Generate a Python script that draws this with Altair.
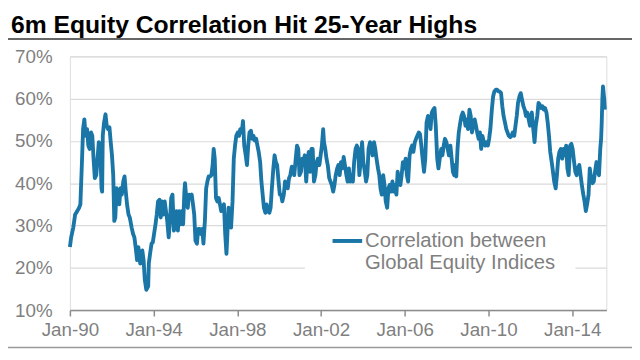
import altair as alt
import pandas as pd

title_text = "6m Equity Correlation Hit 25-Year Highs"
legend_text = "Correlation between\nGlobal Equity Indices"
x_tick_years = [1990, 1994, 1998, 2002, 2006, 2010, 2014]
y_ticks = [10, 20, 30, 40, 50, 60, 70]

# (decimal year, 6m correlation in %)
seg_1990 = [(1990.00, 24.9), (1990.06, 27.2), (1990.16, 29.5), (1990.25, 32.6), (1990.35, 33.4), (1990.44, 34.2),
            (1990.50, 35.0), (1990.57, 44.3), (1990.63, 52.8), (1990.69, 55.1), (1990.75, 51.2), (1990.82, 52.8),
            (1990.88, 48.9), (1990.94, 48.1), (1991.01, 52.0), (1991.07, 51.2), (1991.13, 45.8), (1991.19, 41.2),
            (1991.26, 41.9), (1991.32, 45.8), (1991.38, 49.7), (1991.45, 48.1), (1991.51, 38.8), (1991.54, 38.0),
            (1991.57, 51.2), (1991.63, 54.3), (1991.70, 56.3), (1991.76, 53.6), (1991.82, 52.8), (1991.89, 53.2),
            (1991.95, 49.7), (1992.01, 46.6), (1992.07, 41.9), (1992.12, 31.1), (1992.17, 31.9), (1992.23, 38.8),
            (1992.29, 38.0), (1992.36, 35.0), (1992.42, 38.8), (1992.48, 37.3), (1992.55, 40.4), (1992.61, 41.6),
            (1992.67, 38.0), (1992.73, 35.0), (1992.80, 32.6), (1992.86, 31.9), (1992.95, 29.5), (1993.02, 28.0),
            (1993.08, 27.2), (1993.14, 24.9), (1993.21, 21.8), (1993.27, 24.9), (1993.36, 21.0), (1993.46, 24.1),
            (1993.52, 21.8), (1993.58, 17.1), (1993.65, 14.8)]

seg_1994 = [(1993.74, 15.6), (1993.77, 21.0), (1993.83, 23.3), (1993.90, 25.7), (1993.96, 26.0), (1994.02, 28.0),
            (1994.09, 30.3), (1994.15, 32.6), (1994.21, 35.7), (1994.28, 36.1), (1994.34, 31.9), (1994.40, 35.7),
            (1994.46, 32.6), (1994.53, 35.7), (1994.59, 33.4), (1994.65, 31.1), (1994.72, 27.2), (1994.78, 31.1),
            (1994.84, 36.5), (1994.90, 37.3), (1994.97, 28.8), (1995.03, 31.1), (1995.09, 33.4), (1995.16, 28.8),
            (1995.22, 33.4), (1995.28, 30.3), (1995.34, 33.4), (1995.41, 30.3), (1995.47, 38.0), (1995.50, 40.0),
            (1995.56, 36.5), (1995.63, 34.2), (1995.69, 37.3), (1995.75, 36.9), (1995.82, 37.3), (1995.88, 35.0),
            (1995.94, 32.6), (1996.00, 26.4), (1996.07, 25.7), (1996.13, 29.2), (1996.19, 29.2), (1996.26, 28.0),
            (1996.32, 29.2), (1996.38, 25.7), (1996.45, 31.1), (1996.51, 38.8), (1996.57, 40.4), (1996.63, 41.6),
            (1996.70, 41.6), (1996.76, 41.9), (1996.82, 44.3), (1996.87, 48.1), (1996.92, 45.8), (1996.98, 36.5),
            (1997.04, 35.7), (1997.11, 36.5), (1997.17, 35.0), (1997.23, 33.4)]

seg_1998 = [(1997.29, 34.2), (1997.36, 35.0), (1997.42, 28.0), (1997.48, 23.3), (1997.51, 26.4), (1997.58, 34.2),
            (1997.64, 31.9), (1997.70, 29.5), (1997.77, 35.7), (1997.83, 45.8), (1997.89, 48.9), (1997.95, 51.2),
            (1998.02, 52.0), (1998.08, 51.2), (1998.14, 52.8), (1998.21, 52.0), (1998.27, 54.7), (1998.33, 48.9),
            (1998.40, 46.6), (1998.46, 44.3), (1998.52, 48.9), (1998.58, 52.0), (1998.65, 52.4), (1998.71, 50.5),
            (1998.77, 51.2), (1998.83, 50.1), (1998.90, 50.5), (1998.96, 48.9), (1999.02, 47.4), (1999.09, 45.0),
            (1999.15, 40.4), (1999.21, 37.3), (1999.27, 34.2), (1999.34, 33.0), (1999.40, 35.0), (1999.46, 33.4),
            (1999.53, 33.0), (1999.59, 34.2), (1999.65, 38.8), (1999.72, 43.5), (1999.78, 46.6), (1999.84, 45.0),
            (1999.90, 44.3), (1999.97, 40.4), (2000.03, 37.3), (2000.09, 37.3), (2000.15, 35.7), (2000.22, 37.3),
            (2000.28, 40.4), (2000.34, 39.6), (2000.41, 38.8), (2000.47, 41.2), (2000.53, 41.9), (2000.60, 43.9),
            (2000.66, 43.5), (2000.72, 41.9), (2000.79, 45.8), (2000.85, 48.9), (2000.91, 48.1), (2000.97, 41.9)]

seg_2002 = [(2001.04, 42.7), (2001.10, 45.8), (2001.16, 44.3), (2001.22, 46.6), (2001.29, 40.4), (2001.35, 45.0),
            (2001.41, 47.4), (2001.48, 42.7), (2001.54, 48.1), (2001.60, 48.1), (2001.66, 40.4), (2001.73, 41.9),
            (2001.79, 45.0), (2001.85, 45.8), (2001.92, 44.3), (2001.98, 46.6), (2002.04, 48.9), (2002.10, 52.8),
            (2002.14, 49.7), (2002.20, 48.1), (2002.26, 45.8), (2002.32, 44.3), (2002.39, 41.2), (2002.45, 40.4),
            (2002.51, 39.6), (2002.58, 38.0), (2002.64, 39.6), (2002.70, 41.9), (2002.77, 43.5), (2002.83, 44.3),
            (2002.89, 41.9), (2002.95, 45.0), (2003.02, 43.5), (2003.08, 46.2), (2003.14, 44.3), (2003.21, 41.9),
            (2003.27, 40.4), (2003.33, 43.5), (2003.39, 40.4), (2003.46, 41.9), (2003.52, 40.4), (2003.58, 45.0),
            (2003.65, 48.1), (2003.71, 48.9), (2003.77, 48.1), (2003.83, 41.9), (2003.90, 45.8), (2003.96, 49.7),
            (2004.02, 45.0), (2004.09, 42.7), (2004.15, 40.4), (2004.21, 41.9), (2004.27, 48.1), (2004.34, 49.7),
            (2004.40, 48.1), (2004.46, 46.6), (2004.53, 49.7)]

seg_2006 = [(2004.59, 48.1), (2004.65, 45.8), (2004.72, 43.5), (2004.78, 41.9), (2004.84, 38.8), (2004.90, 37.3),
            (2004.97, 41.9), (2005.03, 39.6), (2005.09, 35.7), (2005.16, 34.2), (2005.22, 38.8), (2005.28, 39.6),
            (2005.34, 38.0), (2005.41, 40.4), (2005.47, 38.0), (2005.53, 39.6), (2005.60, 37.3), (2005.66, 42.7),
            (2005.72, 40.4), (2005.79, 39.6), (2005.85, 41.9), (2005.91, 45.0), (2005.97, 43.5), (2006.04, 45.8),
            (2006.10, 41.9), (2006.16, 40.4), (2006.23, 46.6), (2006.29, 48.1), (2006.35, 48.9), (2006.41, 47.4),
            (2006.48, 49.7), (2006.54, 50.5), (2006.60, 51.2), (2006.67, 52.0), (2006.73, 51.6), (2006.79, 48.9),
            (2006.85, 45.8), (2006.92, 42.7), (2006.98, 45.8), (2007.04, 54.3), (2007.11, 55.9), (2007.17, 55.1),
            (2007.23, 52.8), (2007.29, 56.7), (2007.36, 57.4), (2007.42, 57.8), (2007.48, 53.6), (2007.55, 45.8),
            (2007.61, 43.5), (2007.67, 45.8), (2007.74, 48.1), (2007.80, 46.6), (2007.86, 48.9), (2007.92, 50.5),
            (2007.99, 49.7), (2008.05, 48.1), (2008.11, 46.6), (2008.18, 48.9), (2008.24, 45.8), (2008.30, 42.7),
            (2008.36, 41.9)]

seg_2010 = [(2008.40, 44.3), (2008.46, 41.6), (2008.52, 48.1), (2008.58, 52.0), (2008.65, 54.3), (2008.71, 55.9),
            (2008.77, 56.7), (2008.83, 55.9), (2008.90, 53.6), (2008.96, 55.1), (2009.02, 52.8), (2009.09, 57.4),
            (2009.15, 55.9), (2009.21, 52.0), (2009.27, 53.6), (2009.34, 55.1), (2009.40, 53.6), (2009.46, 52.0),
            (2009.53, 50.5), (2009.59, 52.0), (2009.65, 48.1), (2009.71, 51.2), (2009.78, 49.7), (2009.84, 48.9),
            (2009.90, 49.7), (2009.97, 48.9), (2010.03, 50.5), (2010.09, 52.8), (2010.16, 57.4), (2010.22, 60.5),
            (2010.28, 61.7), (2010.35, 62.1), (2010.41, 62.1), (2010.47, 61.7), (2010.53, 61.7), (2010.60, 61.3),
            (2010.66, 58.2), (2010.72, 55.9), (2010.79, 54.3), (2010.85, 52.8), (2010.91, 52.0), (2010.97, 51.2),
            (2011.04, 50.9), (2011.10, 51.2), (2011.16, 52.0), (2011.23, 51.2), (2011.29, 53.6), (2011.35, 55.9),
            (2011.41, 59.0), (2011.48, 60.5), (2011.54, 61.3), (2011.60, 59.8), (2011.67, 58.2), (2011.73, 57.4),
            (2011.79, 55.9), (2011.85, 56.7), (2011.92, 55.1), (2011.98, 53.6)]

seg_2014 = [(2012.01, 55.9), (2012.07, 56.7), (2012.14, 52.8), (2012.20, 49.7), (2012.26, 53.6), (2012.33, 55.9),
            (2012.39, 59.0), (2012.45, 58.6), (2012.51, 57.8), (2012.58, 58.2), (2012.64, 57.4), (2012.70, 57.8),
            (2012.77, 56.7), (2012.83, 54.3), (2012.89, 51.2), (2012.95, 47.4), (2013.02, 45.0), (2013.08, 42.7),
            (2013.14, 40.4), (2013.21, 38.8), (2013.27, 41.9), (2013.33, 45.8), (2013.39, 47.4), (2013.46, 48.1),
            (2013.52, 45.8), (2013.58, 48.1), (2013.65, 46.6), (2013.71, 48.9), (2013.77, 43.5), (2013.83, 41.9),
            (2013.90, 48.9), (2013.96, 49.3), (2014.02, 48.1), (2014.09, 45.0), (2014.15, 42.7), (2014.21, 41.9),
            (2014.27, 43.5), (2014.34, 44.3), (2014.40, 41.9), (2014.46, 39.6), (2014.53, 37.3), (2014.59, 35.7),
            (2014.65, 33.4), (2014.71, 35.0), (2014.78, 37.3), (2014.84, 43.5), (2014.90, 41.2), (2014.97, 40.0),
            (2015.03, 40.4), (2015.09, 42.7), (2015.16, 45.0), (2015.22, 42.7), (2015.28, 41.9), (2015.34, 48.1),
            (2015.38, 50.5), (2015.41, 54.3), (2015.44, 59.8), (2015.47, 62.9), (2015.53, 59.8), (2015.56, 57.4)]

points = seg_1990 + seg_1994 + seg_1998 + seg_2002 + seg_2006 + seg_2010 + seg_2014
df = pd.DataFrame(points, columns=["year", "corr"])

FONT = "Liberation Sans"
LINE_COLOR = "#1a76a7"
GRAY_TEXT = "#7f7f7f"

PAD_L, PAD_T = 62.7, 46.7
W, H = 543.3, 257.0
TOTAL_W, TOTAL_H = 632, 352

one = pd.DataFrame({"t": [0]})

legend_box = alt.Chart(one).mark_rect(color="white").encode(
    x=alt.value(238), x2=alt.value(512), y=alt.value(176), y2=alt.value(236)
)

line = alt.Chart(df).mark_line(color=LINE_COLOR, strokeWidth=3.9, strokeJoin="round").encode(
    x=alt.X("year:Q",
            scale=alt.Scale(domain=[1990, 2015.63], nice=False, zero=False),
            axis=alt.Axis(values=x_tick_years,
                          labelExpr="'Jan-' + substring(toString(datum.value), 2, 4)",
                          grid=False, title=None, domainColor="#8c8c8c", domainWidth=1.5,
                          tickColor="#8c8c8c", tickWidth=1.5, tickSize=6,
                          labelFont=FONT, labelFontSize=19, labelColor=GRAY_TEXT,
                          labelPadding=5, labelFlush=False, labelOverlap=False)),
    y=alt.Y("corr:Q",
            scale=alt.Scale(domain=[10, 70], nice=False, zero=False),
            axis=alt.Axis(values=y_ticks, labelExpr="datum.value + '%'",
                          grid=True, gridColor="#dadada", gridWidth=1.2,
                          domain=False, ticks=False, title=None,
                          labelFont=FONT, labelFontSize=19, labelColor=GRAY_TEXT,
                          labelPadding=18)),
)

legend_sym = alt.Chart(one).mark_rule(color=LINE_COLOR, strokeWidth=4).encode(
    x=alt.value(266), x2=alt.value(296), y=alt.value(187)
)
legend_lbl = alt.Chart(pd.DataFrame({"t": [legend_text]})).mark_text(
    align="left", baseline="alphabetic", font=FONT, fontSize=20.5, color=GRAY_TEXT,
    lineBreak="\n", lineHeight=22
).encode(x=alt.value(299), y=alt.value(193.5), text="t:N")

title = alt.Chart(pd.DataFrame({"t": [title_text]})).mark_text(
    align="left", baseline="alphabetic", font=FONT, fontSize=25, fontWeight="bold", color="black"
).encode(x=alt.value(-PAD_L + 3), y=alt.value(-23.5), text="t:N")

title_rule = alt.Chart(one).mark_rule(color="#333333", strokeWidth=1.5).encode(
    x=alt.value(-PAD_L), x2=alt.value(TOTAL_W - PAD_L), y=alt.value(-17.5)
)
bottom_rule = alt.Chart(one).mark_rule(color="#9a9a9a", strokeWidth=1.5).encode(
    x=alt.value(-PAD_L), x2=alt.value(TOTAL_W - PAD_L), y=alt.value(295)
)

chart = alt.layer(legend_box, line, legend_sym, legend_lbl, title, title_rule, bottom_rule).properties(
    width=W, height=H,
    autosize=alt.AutoSizeParams(type="none"),
    padding={"left": PAD_L, "top": PAD_T, "right": TOTAL_W - PAD_L - W, "bottom": TOTAL_H - PAD_T - H},
).configure_view(stroke=None).configure(background="white")

chart.save("out.html", embed_options={"renderer": "svg", "actions": False})
